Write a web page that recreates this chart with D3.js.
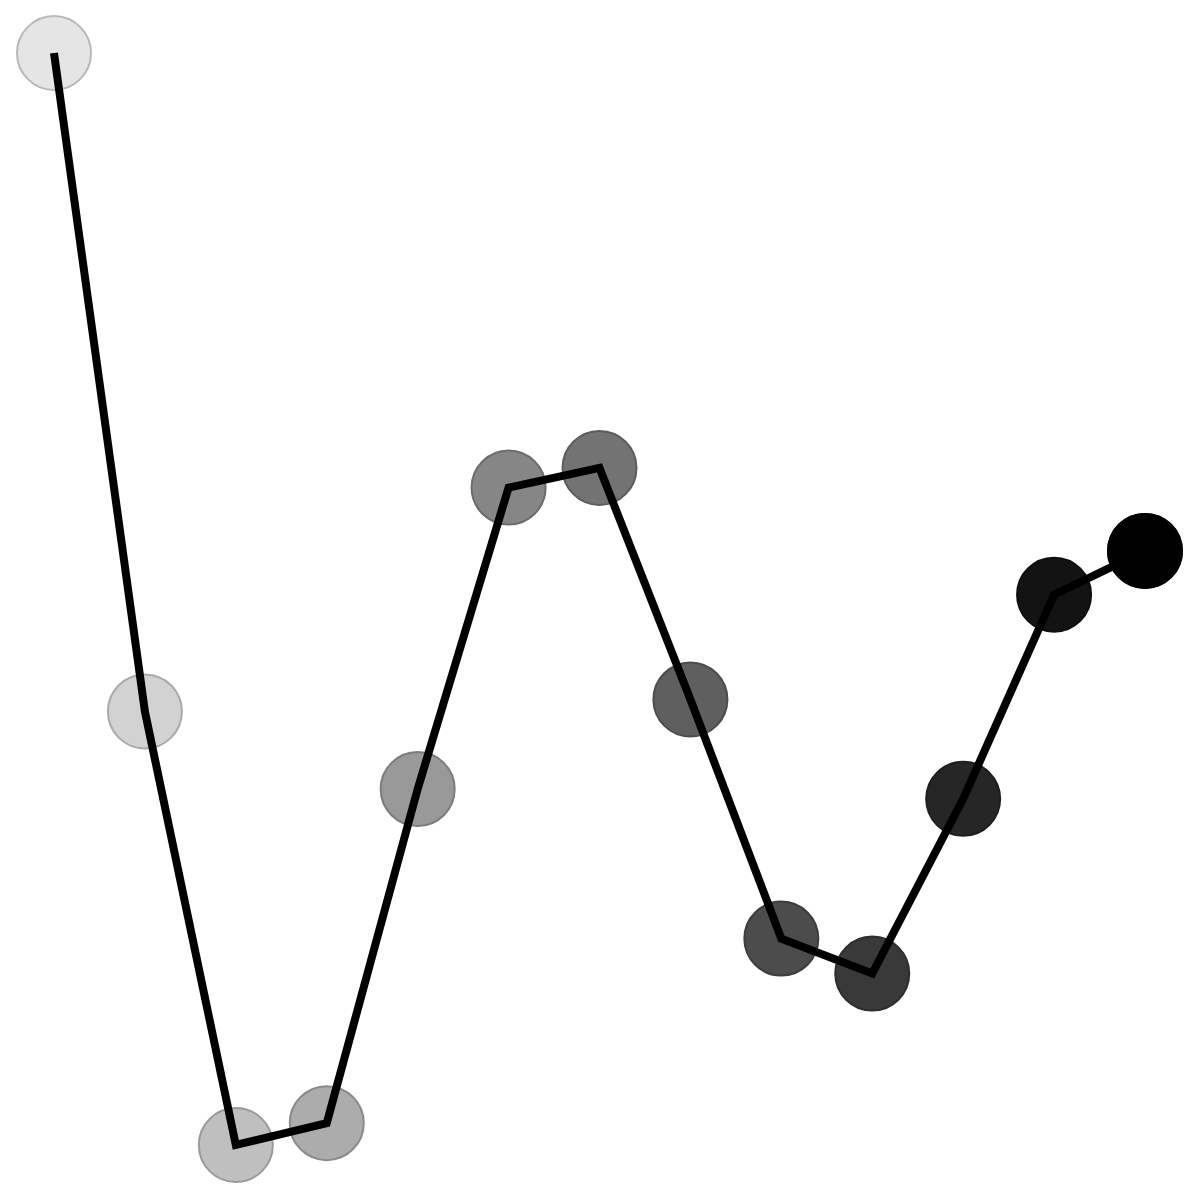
<!DOCTYPE html>
<html>
<head>
<meta charset="utf-8">
<script src="https://d3js.org/d3.v7.min.js"></script>
<style>
  body { margin: 0; background: #fff; }
</style>
</head>
<body>
<svg width="1200" height="1200" id="svg_chart"></svg>
<script>

// step index and value
var steps = [0, 1, 2, 3, 4, 5, 6, 7, 8, 9, 10, 11, 12];
var values = [100, 39.7, 0, 2.0, 32.6, 60.2, 62.0, 40.8, 18.9, 15.7, 31.7, 50.4, 54.4];

var svg = d3.select("#svg_chart");

var pts = steps.map(function(s, i) { return {x: s, y: values[i]}; });

var x = d3.scaleLinear()
    .domain(d3.extent(steps))
    .range([54, 1145]);

var y = d3.scaleLinear()
    .domain(d3.extent(values))
    .range([1145, 53]);

// light grey -> black along the steps
var shade = d3.scaleLinear()
    .domain(d3.extent(steps))
    .range(["#e5e5e5", "#000000"]);

svg.selectAll("circle")
    .data(pts)
    .enter()
    .append("circle")
    .attr("cx", function(d) { return x(d.x); })
    .attr("cy", function(d) { return y(d.y); })
    .attr("r", 37)
    .attr("fill", function(d) { return shade(d.x); })
    .attr("stroke", function(d) { return d3.color(shade(d.x)).darker(0.6); })
    .attr("stroke-width", 2);

var line = d3.line()
    .x(function(d) { return x(d.x); })
    .y(function(d) { return y(d.y); });

svg.append("path")
    .datum(pts)
    .attr("fill", "none")
    .attr("stroke", "black")
    .attr("stroke-width", 8)
    .attr("stroke-linejoin", "miter")
    .attr("d", line);

// last dot sits on top of the line end
svg.append("circle")
    .attr("cx", x(steps[steps.length - 1]))
    .attr("cy", y(values[values.length - 1]))
    .attr("r", 38)
    .attr("fill", "black");

</script>
</body>
</html>
